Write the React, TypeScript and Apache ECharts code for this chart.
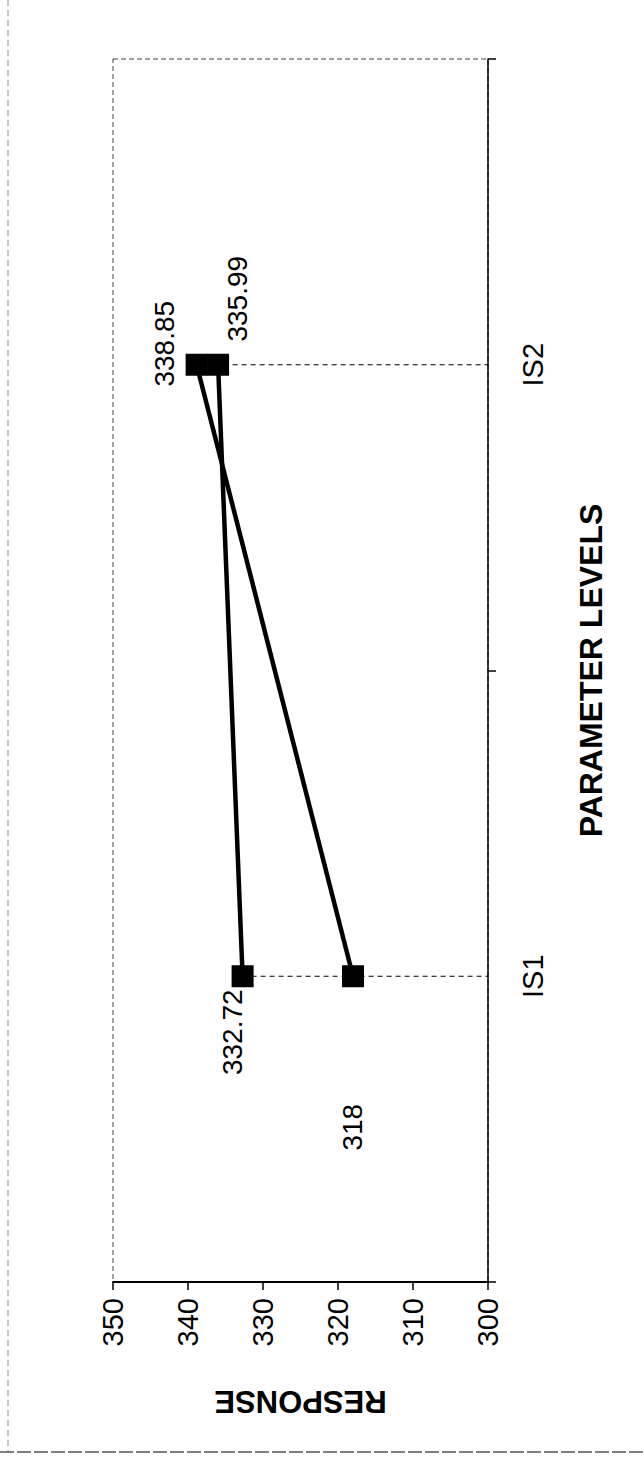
import React, { useEffect, useRef } from 'react';
import * as echarts from 'echarts';

// ---- data ----
const categories = ['IS1', 'IS2'];
const seriesA = [332.72, 335.99];
const seriesB = [318, 338.85];
const axisMin = 300;
const axisMax = 350;
const axisInterval = 10;
const valueAxisTitle = 'RESPONSE';
const categoryAxisTitle = 'PARAMETER LEVELS';

const FONT = "'Liberation Sans', Arial, sans-serif";

// label placement (page-space displacement from the point: [dx, dy])
const labelShiftA = [[-10, 56], [19, -66]];
const labelShiftB = [[-1, 151], [-32, -21]];

function pointData(values: number[], shifts: number[][]) {
  return values.map((v, i) => ({
    value: [v, categories[i]],
    label: {
      show: true,
      position: 'inside',
      rotate: 90,
      align: 'center',
      verticalAlign: 'middle',
      // offset is expressed in the rotated frame
      offset: [-shifts[i][1], shifts[i][0]],
      formatter: String(v),
      color: '#000',
      fontSize: 28,
      fontFamily: FONT,
    },
  }));
}

export default function App() {
  const ref = useRef<HTMLDivElement>(null);
  useEffect(() => {
    document.body.style.margin = '0';
    const chart = echarts.init(ref.current!, null, { renderer: 'svg' });
    const dropSeries = categories.map((c, i) => ({
      type: 'line',
      silent: true,
      symbol: 'none',
      z: 1,
      lineStyle: { color: '#000', width: 1, type: [5, 4] },
      data: [
        [Math.max(seriesA[i], seriesB[i]), c],
        [axisMin, c],
      ],
    }));
    chart.setOption({
      animation: false,
      backgroundColor: '#fff',
      grid: {
        left: 113,
        right: 156,
        top: 59,
        bottom: 180,
        show: true,
        borderColor: '#444',
        borderWidth: 1,
        borderType: [5, 3],
      },
      xAxis: {
        type: 'value',
        min: axisMin,
        max: axisMax,
        interval: axisInterval,
        inverse: true,
        position: 'bottom',
        splitLine: { show: false },
        axisLine: { show: true, lineStyle: { color: '#000', width: 2 } },
        axisTick: { show: true, inside: false, length: 8, lineStyle: { color: '#000', width: 1.5 } },
        axisLabel: {
          rotate: 90,
          margin: 16,
          color: '#000',
          fontSize: 29,
          fontFamily: FONT,
        },
        name: valueAxisTitle,
        nameLocation: 'middle',
        nameRotate: 180,
        nameGap: 104,
        nameTextStyle: { color: '#000', fontSize: 31, fontWeight: 'bold', fontFamily: FONT },
      },
      yAxis: {
        type: 'category',
        data: categories,
        position: 'right',
        boundaryGap: true,
        splitLine: { show: false },
        axisLine: { show: true, lineStyle: { color: '#000', width: 1.5 } },
        axisTick: { show: true, inside: false, length: 8, lineStyle: { color: '#000', width: 1.5 } },
        axisLabel: {
          rotate: 90,
          margin: 30,
          color: '#000',
          fontSize: 29,
          fontFamily: FONT,
        },
        name: categoryAxisTitle,
        nameLocation: 'middle',
        nameRotate: 90,
        nameGap: 87,
        nameTextStyle: { color: '#000', fontSize: 32, fontWeight: 'bold', fontFamily: FONT },
      },
      graphic: [
        {
          type: 'line',
          shape: { x1: 8, y1: 0, x2: 8, y2: 1452 },
          style: { stroke: '#888', lineWidth: 1, lineDash: [6, 4] },
        },
        {
          type: 'line',
          shape: { x1: 0, y1: 1452, x2: 644, y2: 1452 },
          style: { stroke: '#555', lineWidth: 1.5, lineDash: [14, 3] },
        },
      ],
      series: [
        ...dropSeries,
        {
          type: 'line',
          name: 'A',
          z: 3,
          symbol: 'rect',
          symbolSize: 22,
          itemStyle: { color: '#000' },
          lineStyle: { color: '#000', width: 4.5 },
          data: pointData(seriesA, labelShiftA),
        },
        {
          type: 'line',
          name: 'B',
          z: 3,
          symbol: 'rect',
          symbolSize: 22,
          itemStyle: { color: '#000' },
          lineStyle: { color: '#000', width: 4.5 },
          data: pointData(seriesB, labelShiftB),
        },
      ],
    });
    return () => chart.dispose();
  }, []);
  return <div ref={ref} style={{ width: 644, height: 1462 }} />;
}
